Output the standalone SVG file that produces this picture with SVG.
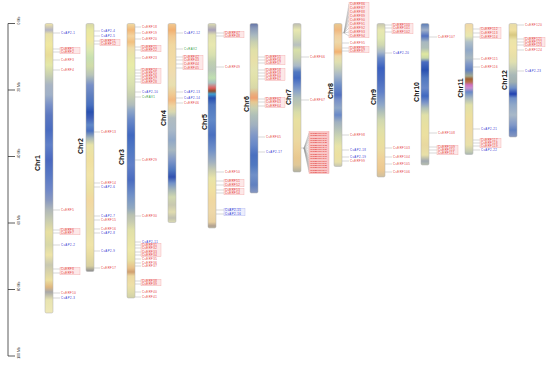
<svg xmlns="http://www.w3.org/2000/svg" width="550" height="369" viewBox="0 0 550 369">
<style>
.bar{stroke:#b0b0b0;stroke-width:0.5}
.chr{font-family:"Liberation Sans",Arial,sans-serif;font-size:7px;font-weight:bold;fill:#111}
.l{font-family:"Liberation Sans",Arial,sans-serif;font-size:2.8px;letter-spacing:0.45px;dominant-baseline:central}
.s{font-size:1.9px;letter-spacing:0}
.e{fill:#e3342f}.a{fill:#2f2fd0}.r{fill:#2b9a3a}
.box{fill:#fde8e8;stroke:#f2aaaa;stroke-width:0.4}
.bb{fill:#eceefd;stroke:#b0b4f0;stroke-width:0.4}
.cb{fill:#f9c6c6;stroke:#f09a9a;stroke-width:0.4}
#connectors path{stroke:#999;stroke-width:0.4;fill:none}
.sc line{stroke:#333;stroke-width:0.8}
.sct{font-family:"Liberation Sans",Arial,sans-serif;font-size:3.5px;fill:#222}
</style>
<defs>
<linearGradient id="g1" gradientUnits="userSpaceOnUse" x1="0" y1="0" x2="0" y2="1000">
<stop offset=".024" stop-color="#ede2a8"/><stop offset=".030" stop-color="#b4b4c4"/><stop offset=".034" stop-color="#e8e0a8"/><stop offset=".045" stop-color="#f0e8a0"/><stop offset=".055" stop-color="#e8dc98"/><stop offset=".065" stop-color="#e4e8a8"/><stop offset=".075" stop-color="#c8d0b0"/><stop offset=".085" stop-color="#a8b4c4"/><stop offset=".095" stop-color="#9fb0c8"/><stop offset=".105" stop-color="#7890c8"/><stop offset=".115" stop-color="#5c78c0"/><stop offset=".130" stop-color="#4a6cc0"/><stop offset=".145" stop-color="#6080c8"/><stop offset=".160" stop-color="#4a68c0"/><stop offset=".175" stop-color="#5878c4"/><stop offset=".190" stop-color="#7088c8"/><stop offset=".200" stop-color="#8898c0"/><stop offset=".210" stop-color="#b0b8b8"/><stop offset=".220" stop-color="#c8ccb0"/><stop offset=".232" stop-color="#e8e0a0"/><stop offset=".245" stop-color="#d8d8a8"/><stop offset=".255" stop-color="#eee4a8"/><stop offset=".265" stop-color="#c8c8b0"/><stop offset=".280" stop-color="#ece0a0"/><stop offset=".287" stop-color="#e0b880"/><stop offset=".292" stop-color="#a8a8a8"/><stop offset=".300" stop-color="#e8e4b0"/><stop offset=".313" stop-color="#efe8b8"/>
</linearGradient>
<linearGradient id="g2" gradientUnits="userSpaceOnUse" x1="0" y1="0" x2="0" y2="1000">
<stop offset=".024" stop-color="#d8d8a8"/><stop offset=".030" stop-color="#e8e8a0"/><stop offset=".040" stop-color="#f0e8a0"/><stop offset=".050" stop-color="#dce8b0"/><stop offset=".058" stop-color="#c8e0b0"/><stop offset=".066" stop-color="#d0dca8"/><stop offset=".075" stop-color="#b8c4b8"/><stop offset=".085" stop-color="#7890c8"/><stop offset=".095" stop-color="#6080c0"/><stop offset=".105" stop-color="#4870c0"/><stop offset=".112" stop-color="#2850b0"/><stop offset=".118" stop-color="#4060b8"/><stop offset=".125" stop-color="#6088c8"/><stop offset=".131" stop-color="#4a70c0"/><stop offset=".138" stop-color="#a8b8b8"/><stop offset=".145" stop-color="#e8e4a8"/><stop offset=".160" stop-color="#f0e0a0"/><stop offset=".175" stop-color="#f2e4a8"/><stop offset=".190" stop-color="#ece0a0"/><stop offset=".200" stop-color="#f2d8a0"/><stop offset=".215" stop-color="#eedca8"/><stop offset=".230" stop-color="#e8e0a8"/><stop offset=".245" stop-color="#f0e4a8"/><stop offset=".255" stop-color="#e8dca0"/><stop offset=".266" stop-color="#d8d0a0"/><stop offset=".271" stop-color="#909090"/>
</linearGradient>
<linearGradient id="g3" gradientUnits="userSpaceOnUse" x1="0" y1="0" x2="0" y2="1000">
<stop offset=".024" stop-color="#f0d8a0"/><stop offset=".030" stop-color="#f2b878"/><stop offset=".036" stop-color="#f4d4a0"/><stop offset=".042" stop-color="#f2c080"/><stop offset=".048" stop-color="#f0dca8"/><stop offset=".055" stop-color="#e8e4a8"/><stop offset=".065" stop-color="#e8eca8"/><stop offset=".075" stop-color="#e0e8b0"/><stop offset=".085" stop-color="#d8e0b0"/><stop offset=".095" stop-color="#c8d0b0"/><stop offset=".105" stop-color="#b0bcbc"/><stop offset=".110" stop-color="#90a8c8"/><stop offset=".120" stop-color="#6888c8"/><stop offset=".135" stop-color="#4068c0"/><stop offset=".150" stop-color="#5078c4"/><stop offset=".165" stop-color="#6080c8"/><stop offset=".180" stop-color="#4a6cc0"/><stop offset=".195" stop-color="#7090c8"/><stop offset=".208" stop-color="#90a8c0"/><stop offset=".215" stop-color="#b8c0b0"/><stop offset=".222" stop-color="#c8ccb0"/><stop offset=".230" stop-color="#e0e0a8"/><stop offset=".240" stop-color="#e8e4a8"/><stop offset=".250" stop-color="#eee8a8"/><stop offset=".260" stop-color="#e8e0a0"/><stop offset=".268" stop-color="#e8c088"/><stop offset=".272" stop-color="#d0a070"/><stop offset=".276" stop-color="#ecd8a0"/><stop offset=".285" stop-color="#eee0a8"/><stop offset=".292" stop-color="#e0dca8"/><stop offset=".298" stop-color="#d0d0a8"/>
</linearGradient>
<linearGradient id="g4" gradientUnits="userSpaceOnUse" x1="0" y1="0" x2="0" y2="1000">
<stop offset=".024" stop-color="#f0c890"/><stop offset=".030" stop-color="#f2b070"/><stop offset=".036" stop-color="#f2c890"/><stop offset=".045" stop-color="#f0d8a0"/><stop offset=".065" stop-color="#f2dca8"/><stop offset=".075" stop-color="#eedcb0"/><stop offset=".085" stop-color="#e8e0b0"/><stop offset=".095" stop-color="#f0c890"/><stop offset=".100" stop-color="#f2b880"/><stop offset=".106" stop-color="#eed4a0"/><stop offset=".112" stop-color="#d8d8b0"/><stop offset=".118" stop-color="#b0bcc0"/><stop offset=".130" stop-color="#a8b8c8"/><stop offset=".140" stop-color="#90a8c8"/><stop offset=".150" stop-color="#a8b8c0"/><stop offset=".160" stop-color="#8098c8"/><stop offset=".170" stop-color="#5078c0"/><stop offset=".177" stop-color="#3050b0"/><stop offset=".183" stop-color="#7090c8"/><stop offset=".190" stop-color="#a8b8b8"/><stop offset=".197" stop-color="#d0d8b0"/><stop offset=".205" stop-color="#c8c8b0"/><stop offset=".212" stop-color="#e0dcb0"/><stop offset=".218" stop-color="#c0c0b0"/><stop offset=".222" stop-color="#d8d8b0"/>
</linearGradient>
<linearGradient id="g5" gradientUnits="userSpaceOnUse" x1="0" y1="0" x2="0" y2="1000">
<stop offset=".024" stop-color="#d8d8b0"/><stop offset=".030" stop-color="#a8a0b8"/><stop offset=".035" stop-color="#e0e0b0"/><stop offset=".045" stop-color="#e8e8b0"/><stop offset=".055" stop-color="#d8e0b0"/><stop offset=".062" stop-color="#c0d0b0"/><stop offset=".070" stop-color="#b8c8b8"/><stop offset=".078" stop-color="#c0e0b0"/><stop offset=".083" stop-color="#a8c0c0"/><stop offset=".088" stop-color="#e06060"/><stop offset=".091" stop-color="#904828"/><stop offset=".094" stop-color="#40a0d0"/><stop offset=".098" stop-color="#2850b0"/><stop offset=".105" stop-color="#5078c0"/><stop offset=".120" stop-color="#6088c8"/><stop offset=".135" stop-color="#4a70c0"/><stop offset=".150" stop-color="#7090c8"/><stop offset=".162" stop-color="#a0b0c0"/><stop offset=".170" stop-color="#c8ccb0"/><stop offset=".178" stop-color="#e8e4a8"/><stop offset=".190" stop-color="#f0e0a0"/><stop offset=".200" stop-color="#f0d8a0"/><stop offset=".212" stop-color="#eed8a8"/><stop offset=".222" stop-color="#e8d0a0"/><stop offset=".226" stop-color="#b0a090"/><stop offset=".228" stop-color="#c0b8a0"/>
</linearGradient>
<linearGradient id="g6" gradientUnits="userSpaceOnUse" x1="0" y1="0" x2="0" y2="1000">
<stop offset=".024" stop-color="#6878a8"/><stop offset=".028" stop-color="#8898b8"/><stop offset=".035" stop-color="#a8b8c0"/><stop offset=".042" stop-color="#c8d0b0"/><stop offset=".050" stop-color="#e0e0a8"/><stop offset=".060" stop-color="#e8e0a8"/><stop offset=".070" stop-color="#e4e4b0"/><stop offset=".080" stop-color="#e0e0a8"/><stop offset=".088" stop-color="#d8d8a8"/><stop offset=".094" stop-color="#e8b080"/><stop offset=".098" stop-color="#f0a070"/><stop offset=".102" stop-color="#e8c890"/><stop offset=".108" stop-color="#c8d0b0"/><stop offset=".115" stop-color="#b0c0b8"/><stop offset=".125" stop-color="#a0b0c0"/><stop offset=".135" stop-color="#8098c8"/><stop offset=".145" stop-color="#6888c8"/><stop offset=".155" stop-color="#4a70c0"/><stop offset=".165" stop-color="#5078c0"/><stop offset=".175" stop-color="#7090c8"/><stop offset=".185" stop-color="#6080c0"/><stop offset=".193" stop-color="#8898c0"/>
</linearGradient>
<linearGradient id="g7" gradientUnits="userSpaceOnUse" x1="0" y1="0" x2="0" y2="1000">
<stop offset=".024" stop-color="#c0c0b0"/><stop offset=".030" stop-color="#e8e8b0"/><stop offset=".038" stop-color="#d0d8b0"/><stop offset=".045" stop-color="#b8c0c0"/><stop offset=".050" stop-color="#d8e0a8"/><stop offset=".058" stop-color="#c8d0b0"/><stop offset=".066" stop-color="#a8b8c8"/><stop offset=".072" stop-color="#5078c0"/><stop offset=".078" stop-color="#4068c0"/><stop offset=".085" stop-color="#6888c8"/><stop offset=".092" stop-color="#90a8c8"/><stop offset=".098" stop-color="#b0c0b8"/><stop offset=".105" stop-color="#c0c8b0"/><stop offset=".112" stop-color="#d8dca8"/><stop offset=".120" stop-color="#e8e0a0"/><stop offset=".130" stop-color="#e8dca0"/><stop offset=".140" stop-color="#ecd8a0"/><stop offset=".150" stop-color="#ecd098"/><stop offset=".158" stop-color="#e8c890"/><stop offset=".165" stop-color="#e0c898"/><stop offset=".172" stop-color="#b0b0a0"/>
</linearGradient>
<linearGradient id="g8" gradientUnits="userSpaceOnUse" x1="0" y1="0" x2="0" y2="1000">
<stop offset=".024" stop-color="#e8c890"/><stop offset=".030" stop-color="#f0b880"/><stop offset=".036" stop-color="#f2d0a0"/><stop offset=".042" stop-color="#eed8a8"/><stop offset=".048" stop-color="#f0c890"/><stop offset=".052" stop-color="#f2b070"/><stop offset=".056" stop-color="#eed8a8"/><stop offset=".062" stop-color="#e0e0b0"/><stop offset=".068" stop-color="#c8d0b8"/><stop offset=".075" stop-color="#a8b8c8"/><stop offset=".085" stop-color="#7090c8"/><stop offset=".095" stop-color="#5070c0"/><stop offset=".100" stop-color="#7890c8"/><stop offset=".108" stop-color="#90a8c8"/><stop offset=".115" stop-color="#6888c8"/><stop offset=".122" stop-color="#a0b0c0"/><stop offset=".130" stop-color="#b8c4b8"/><stop offset=".138" stop-color="#d0d8b0"/><stop offset=".146" stop-color="#e8e4a8"/><stop offset=".155" stop-color="#ece0a0"/><stop offset=".162" stop-color="#e8e0a8"/><stop offset=".166" stop-color="#c8c8b0"/>
</linearGradient>
<linearGradient id="g9" gradientUnits="userSpaceOnUse" x1="0" y1="0" x2="0" y2="1000">
<stop offset=".024" stop-color="#c8c8b0"/><stop offset=".030" stop-color="#e8e8b0"/><stop offset=".038" stop-color="#e0e8b0"/><stop offset=".045" stop-color="#d0d8b0"/><stop offset=".052" stop-color="#a8b8c8"/><stop offset=".058" stop-color="#6888c8"/><stop offset=".068" stop-color="#3a60c0"/><stop offset=".080" stop-color="#4a6cc0"/><stop offset=".092" stop-color="#6080c8"/><stop offset=".105" stop-color="#90a8c8"/><stop offset=".112" stop-color="#b0c0b8"/><stop offset=".120" stop-color="#d0d8b0"/><stop offset=".130" stop-color="#e0e0a8"/><stop offset=".140" stop-color="#e8e0a0"/><stop offset=".150" stop-color="#ecdca0"/><stop offset=".160" stop-color="#f0d098"/><stop offset=".170" stop-color="#ecc890"/><stop offset=".177" stop-color="#d0c0a0"/>
</linearGradient>
<linearGradient id="g10" gradientUnits="userSpaceOnUse" x1="0" y1="0" x2="0" y2="1000">
<stop offset=".024" stop-color="#6080b8"/><stop offset=".030" stop-color="#a0b0c8"/><stop offset=".036" stop-color="#5070c0"/><stop offset=".042" stop-color="#a8b8c0"/><stop offset=".048" stop-color="#b0c0b8"/><stop offset=".054" stop-color="#e0e8a0"/><stop offset=".058" stop-color="#c8d8a8"/><stop offset=".062" stop-color="#4a6cc0"/><stop offset=".070" stop-color="#2850b0"/><stop offset=".078" stop-color="#5078c0"/><stop offset=".088" stop-color="#6888c8"/><stop offset=".096" stop-color="#4068c0"/><stop offset=".103" stop-color="#8098c8"/><stop offset=".108" stop-color="#b0c0b8"/><stop offset=".115" stop-color="#e0e0a8"/><stop offset=".125" stop-color="#e8e0a0"/><stop offset=".135" stop-color="#ece0a0"/><stop offset=".145" stop-color="#e8d8a0"/><stop offset=".155" stop-color="#e8e0a8"/><stop offset=".161" stop-color="#a0a8b0"/><stop offset=".165" stop-color="#b8c0b0"/>
</linearGradient>
<linearGradient id="g11" gradientUnits="userSpaceOnUse" x1="0" y1="0" x2="0" y2="1000">
<stop offset=".024" stop-color="#f0d8a8"/><stop offset=".030" stop-color="#f0e0a8"/><stop offset=".036" stop-color="#e8e8b0"/><stop offset=".042" stop-color="#b0c0c8"/><stop offset=".050" stop-color="#90a8c8"/><stop offset=".058" stop-color="#a8b8c0"/><stop offset=".064" stop-color="#8098c8"/><stop offset=".070" stop-color="#6080c0"/><stop offset=".076" stop-color="#a0a890"/><stop offset=".079" stop-color="#a06030"/><stop offset=".082" stop-color="#b87050"/><stop offset=".085" stop-color="#d070c0"/><stop offset=".088" stop-color="#c890d0"/><stop offset=".092" stop-color="#6888c8"/><stop offset=".098" stop-color="#a8b8c0"/><stop offset=".105" stop-color="#e0e0a8"/><stop offset=".115" stop-color="#ece0a0"/><stop offset=".125" stop-color="#f0dca0"/><stop offset=".135" stop-color="#eedca8"/><stop offset=".145" stop-color="#e8e0a8"/><stop offset=".152" stop-color="#c0c8b0"/><stop offset=".155" stop-color="#a0b0b0"/>
</linearGradient>
<linearGradient id="g12" gradientUnits="userSpaceOnUse" x1="0" y1="0" x2="0" y2="1000">
<stop offset=".024" stop-color="#e8dca8"/><stop offset=".030" stop-color="#f0e0a0"/><stop offset=".035" stop-color="#d8c880"/><stop offset=".040" stop-color="#ece4a8"/><stop offset=".048" stop-color="#f0e4a8"/><stop offset=".056" stop-color="#e8e0a8"/><stop offset=".062" stop-color="#e0e0b0"/><stop offset=".068" stop-color="#c8d0b8"/><stop offset=".075" stop-color="#a8b8b8"/><stop offset=".082" stop-color="#a0b0b0"/><stop offset=".088" stop-color="#7090c8"/><stop offset=".094" stop-color="#2040b0"/><stop offset=".098" stop-color="#7090c8"/><stop offset=".105" stop-color="#90a8c8"/><stop offset=".115" stop-color="#a8b8c8"/><stop offset=".125" stop-color="#8098c8"/><stop offset=".130" stop-color="#6080c0"/><stop offset=".137" stop-color="#8898c0"/>
</linearGradient>
</defs>
<rect width="550" height="369" fill="#fff"/>
<g id="scale" class="sc">
<line x1="8" y1="23.5" x2="8" y2="356"/>
<line x1="8" y1="23.5" x2="15" y2="23.5"/><line x1="8" y1="90" x2="15" y2="90"/><line x1="8" y1="156.5" x2="15" y2="156.5"/><line x1="8" y1="223" x2="15" y2="223"/><line x1="8" y1="289.5" x2="15" y2="289.5"/><line x1="8" y1="356" x2="15" y2="356"/>
<text class="sct" text-anchor="middle" transform="translate(20,20.5) rotate(-90)">0 Mb</text>
<text class="sct" text-anchor="middle" transform="translate(20,87) rotate(-90)">20 Mb</text>
<text class="sct" text-anchor="middle" transform="translate(20,153.5) rotate(-90)">40 Mb</text>
<text class="sct" text-anchor="middle" transform="translate(20,220) rotate(-90)">60 Mb</text>
<text class="sct" text-anchor="middle" transform="translate(20,286.5) rotate(-90)">80 Mb</text>
<text class="sct" text-anchor="middle" transform="translate(20,353) rotate(-90)">100 Mb</text>
</g>
<g id="connectors">
<path d="M53 33H60M53 49H60M53 52H60M53 60H60M53 70H60M53 210H60M53 230H60M53 233H60M53 245H60M53 269H60M53 273H60M53 293H60M53 298H60"/>
<path d="M94 31H100M94 36H100M94 41H100M94 44H100M94 132H100M94 183H100M94 187H100M94 216H100M94 220H100M94 229H100M94 233H100M94 251H100M94 268H100"/>
<path d="M135 27H141M135 33H141M135 39H141M135 47H141M135 50H141M135 58H141M135 70H141M135 73H141M135 76H141M135 79H141M135 82H141M135 92H141M135 97H141M135 160H141M135 216H141M135 242H141M135 245H141M135 248H141M135 252H141M135 255H141M135 259H141M135 263H141M135 266H141M135 281H141M135 284H141M135 292H141M135 297H141"/>
<path d="M176 33H183M176 49H183M176 57H183M176 60H183M176 64H183M176 68H183M176 92H183M176 98H183M176 103H183"/>
<path d="M216 33H224M216 36H224M216 67H224M216 172H224M216 181H224M216 185H224M216 190H224M216 193H224M216 210H224M216 214H224"/>
<path d="M258 57H265M258 60H265M258 63H265M258 70H265M258 73H265M258 76H265M258 79H265M258 99H265M258 102H265M258 106H265M258 137H265M258 152H265"/>
<path d="M301 57H309M301 100H309"/>
<path d="M301 148H304L309 133M304 148L309 135.3M304 148L309 137.6M304 148L309 139.9M304 148L309 142.2M304 148L309 144.5M304 148L309 146.8M304 148L309 149.1M304 148L309 151.4M304 148L309 153.6M304 148L309 155.9M304 148L309 158.2M304 148L309 160.5M304 148L309 162.8M304 148L309 165.1M304 148L309 167.4M304 148L309 169.7M304 148L309 172"/>
<path d="M342 33H344L349 4M344 33L349 8M344 33L349 12M344 33L349 16M344 33L349 20M344 33L349 24M344 33L349 28M344 33L349 32M344 33L349 36"/>
<path d="M342 43H349M342 48H349M342 51H349M342 135H349M342 150H349M342 157H349M342 161H349"/>
<path d="M385 25H392M385 28H392M385 32H392M385 53H392M385 148H392M385 157H392M385 164H392M385 172H392"/>
<path d="M429 37H437M429 133H437M429 147H437M429 150H437M429 153H437"/>
<path d="M473 29H480M473 33H480M473 37H480M473 59H480M473 67H480M473 129H480M473 140H480M473 143H480M473 146H480M473 150H480"/>
<path d="M517 25H524M517 39H524M517 42H524M517 45H524M517 50H524M517 71H524"/>
</g>
<g id="chr1">
<rect class="bar" x="45" y="23.5" width="8" height="289.5" rx="1.5" fill="url(#g1)"/>
<text class="chr" text-anchor="middle" transform="translate(39.5,163) rotate(-90)">Chr1</text>
<rect class="box" x="60" y="47.2" width="20" height="6.6"/><rect class="box" x="60" y="228.2" width="20" height="6.6"/><rect class="box" x="60" y="267.2" width="20" height="7.6"/>
<text class="l a" x="61" y="33">CsAP2-1</text><text class="l e" x="61" y="49">CsERF1</text><text class="l e" x="61" y="52">CsERF2</text><text class="l e" x="61" y="60">CsERF3</text><text class="l e" x="61" y="70">CsERF4</text><text class="l e" x="61" y="210">CsERF5</text><text class="l e" x="61" y="230">CsERF6</text><text class="l e" x="61" y="233">CsERF7</text><text class="l a" x="61" y="245">CsAP2-2</text><text class="l e" x="61" y="269">CsERF8</text><text class="l e" x="61" y="273">CsERF9</text><text class="l e" x="61" y="293">CsERF10</text><text class="l a" x="61" y="298">CsAP2-3</text>
</g>
<g id="chr2">
<rect class="bar" x="86" y="23.5" width="8" height="248" rx="1.5" fill="url(#g2)"/>
<text class="chr" text-anchor="middle" transform="translate(82.5,146) rotate(-90)">Chr2</text>
<rect class="box" x="100" y="39.2" width="20" height="6.6"/>
<text class="l a" x="101" y="31">CsAP2-4</text><text class="l a" x="101" y="36">CsAP2-5</text><text class="l e" x="101" y="41">CsERF11</text><text class="l e" x="101" y="44">CsERF12</text><text class="l e" x="101" y="132">CsERF13</text><text class="l e" x="101" y="183">CsERF14</text><text class="l a" x="101" y="187">CsAP2-6</text><text class="l a" x="101" y="216">CsAP2-7</text><text class="l e" x="101" y="220">CsERF15</text><text class="l e" x="101" y="229">CsERF16</text><text class="l a" x="101" y="233">CsAP2-8</text><text class="l a" x="101" y="251">CsAP2-9</text><text class="l e" x="101" y="268">CsERF17</text>
</g>
<g id="chr3">
<rect class="bar" x="127" y="23.5" width="8" height="274.5" rx="1.5" fill="url(#g3)"/>
<text class="chr" text-anchor="middle" transform="translate(123.5,157) rotate(-90)">Chr3</text>
<rect class="box" x="141" y="45.2" width="20" height="6.6"/><rect class="box" x="141" y="68.2" width="20" height="15.6"/><rect class="box" x="141" y="243.2" width="20" height="13.6"/><rect class="box" x="141" y="279.2" width="20" height="6.6"/>
<text class="l e" x="142" y="27">CsERF18</text><text class="l e" x="142" y="33">CsERF19</text><text class="l e" x="142" y="39">CsERF20</text><text class="l e" x="142" y="47">CsERF21</text><text class="l e" x="142" y="50">CsERF22</text><text class="l e" x="142" y="58">CsERF23</text><text class="l e" x="142" y="70">CsERF24</text><text class="l e" x="142" y="73">CsERF25</text><text class="l e" x="142" y="76">CsERF26</text><text class="l e" x="142" y="79">CsERF27</text><text class="l e" x="142" y="82">CsERF28</text><text class="l a" x="142" y="92">CsAP2-10</text><text class="l r" x="142" y="97">CsRAV1</text><text class="l e" x="142" y="160">CsERF29</text><text class="l e" x="142" y="216">CsERF30</text><text class="l a" x="142" y="242">CsAP2-11</text><text class="l e" x="142" y="245">CsERF31</text><text class="l e" x="142" y="248">CsERF32</text><text class="l e" x="142" y="252">CsERF33</text><text class="l e" x="142" y="255">CsERF34</text><text class="l e" x="142" y="259">CsERF35</text><text class="l e" x="142" y="263">CsERF36</text><text class="l e" x="142" y="266">CsERF37</text><text class="l e" x="142" y="281">CsERF38</text><text class="l e" x="142" y="284">CsERF39</text><text class="l e" x="142" y="292">CsERF40</text><text class="l e" x="142" y="297">CsERF41</text>
</g>
<g id="chr4">
<rect class="bar" x="168" y="23.5" width="8" height="199" rx="1.5" fill="url(#g4)"/>
<text class="chr" text-anchor="middle" transform="translate(165.5,118) rotate(-90)">Chr4</text>
<rect class="box" x="183" y="55.2" width="20" height="14.6"/>
<text class="l a" x="184" y="33">CsAP2-12</text><text class="l r" x="184" y="49">CsRAV2</text><text class="l e" x="184" y="57">CsERF42</text><text class="l e" x="184" y="60">CsERF43</text><text class="l e" x="184" y="64">CsERF44</text><text class="l e" x="184" y="68">CsERF45</text><text class="l a" x="184" y="92">CsAP2-13</text><text class="l a" x="184" y="98">CsAP2-14</text><text class="l e" x="184" y="103">CsERF46</text>
</g>
<g id="chr5">
<rect class="bar" x="208" y="23.5" width="8" height="204.5" rx="1.5" fill="url(#g5)"/>
<text class="chr" text-anchor="middle" transform="translate(206.5,122) rotate(-90)">Chr5</text>
<rect class="box" x="224" y="31.2" width="20" height="6.6"/><rect class="box" x="224" y="179.2" width="20" height="7.6"/><rect class="box" x="224" y="188.2" width="20" height="6.6"/><rect class="bb" x="224" y="208.2" width="21" height="7.6"/>
<text class="l e" x="225" y="33">CsERF47</text><text class="l e" x="225" y="36">CsERF48</text><text class="l e" x="225" y="67">CsERF49</text><text class="l e" x="225" y="172">CsERF50</text><text class="l e" x="225" y="181">CsERF51</text><text class="l e" x="225" y="185">CsERF52</text><text class="l e" x="225" y="190">CsERF53</text><text class="l e" x="225" y="193">CsERF54</text><text class="l a" x="225" y="210">CsAP2-15</text><text class="l a" x="225" y="214">CsAP2-16</text>
</g>
<g id="chr6">
<rect class="bar" x="250" y="23.5" width="8" height="169.5" rx="1.5" fill="url(#g6)"/>
<text class="chr" text-anchor="middle" transform="translate(248.5,104) rotate(-90)">Chr6</text>
<rect class="box" x="265" y="55.2" width="20" height="9.6"/><rect class="box" x="265" y="68.2" width="20" height="12.6"/><rect class="box" x="265" y="97.2" width="20" height="10.6"/>
<text class="l e" x="266" y="57">CsERF55</text><text class="l e" x="266" y="60">CsERF56</text><text class="l e" x="266" y="63">CsERF57</text><text class="l e" x="266" y="70">CsERF58</text><text class="l e" x="266" y="73">CsERF59</text><text class="l e" x="266" y="76">CsERF60</text><text class="l e" x="266" y="79">CsERF61</text><text class="l e" x="266" y="99">CsERF62</text><text class="l e" x="266" y="102">CsERF63</text><text class="l e" x="266" y="106">CsERF64</text><text class="l e" x="266" y="137">CsERF65</text><text class="l a" x="266" y="152">CsAP2-17</text>
</g>
<g id="chr7">
<rect class="bar" x="293" y="23.5" width="8" height="148.5" rx="1.5" fill="url(#g7)"/>
<text class="chr" text-anchor="middle" transform="translate(290.5,97) rotate(-90)">Chr7</text>
<rect class="cb" x="309" y="131.6" width="20" height="41.8"/>
<text class="l e" x="310" y="57">CsERF66</text><text class="l e" x="310" y="100">CsERF67</text>
<g class="l e s">
<text x="310" y="133" textLength="17" lengthAdjust="spacingAndGlyphs">CsERF68</text><text x="310" y="135.3" textLength="17" lengthAdjust="spacingAndGlyphs">CsERF69</text><text x="310" y="137.6" textLength="17" lengthAdjust="spacingAndGlyphs">CsERF70</text><text x="310" y="139.9" textLength="17" lengthAdjust="spacingAndGlyphs">CsERF71</text><text x="310" y="142.2" textLength="17" lengthAdjust="spacingAndGlyphs">CsERF72</text><text x="310" y="144.5" textLength="17" lengthAdjust="spacingAndGlyphs">CsERF73</text><text x="310" y="146.8" textLength="17" lengthAdjust="spacingAndGlyphs">CsERF74</text><text x="310" y="149.1" textLength="17" lengthAdjust="spacingAndGlyphs">CsERF75</text><text x="310" y="151.4" textLength="17" lengthAdjust="spacingAndGlyphs">CsERF76</text><text x="310" y="153.6" textLength="17" lengthAdjust="spacingAndGlyphs">CsERF77</text><text x="310" y="155.9" textLength="17" lengthAdjust="spacingAndGlyphs">CsERF78</text><text x="310" y="158.2" textLength="17" lengthAdjust="spacingAndGlyphs">CsERF79</text><text x="310" y="160.5" textLength="17" lengthAdjust="spacingAndGlyphs">CsERF80</text><text x="310" y="162.8" textLength="17" lengthAdjust="spacingAndGlyphs">CsERF81</text><text x="310" y="165.1" textLength="17" lengthAdjust="spacingAndGlyphs">CsERF82</text><text x="310" y="167.4" textLength="17" lengthAdjust="spacingAndGlyphs">CsERF83</text><text x="310" y="169.7" textLength="17" lengthAdjust="spacingAndGlyphs">CsERF84</text><text x="310" y="172" textLength="17" lengthAdjust="spacingAndGlyphs">CsERF85</text>
</g>
</g>
<g id="chr8">
<rect class="bar" x="334" y="23.5" width="8" height="143" rx="1.5" fill="url(#g8)"/>
<text class="chr" text-anchor="middle" transform="translate(332.5,91) rotate(-90)">Chr8</text>
<rect class="box" x="349" y="2.2" width="20" height="35.6"/><rect class="box" x="349" y="46.2" width="20" height="6.6"/>
<text class="l e" x="350" y="4">CsERF86</text><text class="l e" x="350" y="8">CsERF87</text><text class="l e" x="350" y="12">CsERF88</text><text class="l e" x="350" y="16">CsERF89</text><text class="l e" x="350" y="20">CsERF90</text><text class="l e" x="350" y="24">CsERF91</text><text class="l e" x="350" y="28">CsERF92</text><text class="l e" x="350" y="32">CsERF93</text><text class="l e" x="350" y="36">CsERF94</text><text class="l e" x="350" y="43">CsERF95</text><text class="l e" x="350" y="48">CsERF96</text><text class="l e" x="350" y="51">CsERF97</text><text class="l e" x="350" y="135">CsERF98</text><text class="l a" x="350" y="150">CsAP2-18</text><text class="l a" x="350" y="157">CsAP2-19</text><text class="l e" x="350" y="161">CsERF99</text>
</g>
<g id="chr9">
<rect class="bar" x="377" y="23.5" width="8" height="153.5" rx="1.5" fill="url(#g9)"/>
<text class="chr" text-anchor="middle" transform="translate(375.5,97) rotate(-90)">Chr9</text>
<rect class="box" x="392" y="23.2" width="21" height="10.6"/>
<text class="l e" x="393" y="25">CsERF100</text><text class="l e" x="393" y="28">CsERF101</text><text class="l e" x="393" y="32">CsERF102</text><text class="l a" x="393" y="53">CsAP2-20</text><text class="l e" x="393" y="148">CsERF103</text><text class="l e" x="393" y="157">CsERF104</text><text class="l e" x="393" y="164">CsERF105</text><text class="l e" x="393" y="172">CsERF106</text>
</g>
<g id="chr10">
<rect class="bar" x="421" y="23.5" width="8" height="141.5" rx="1.5" fill="url(#g10)"/>
<text class="chr" text-anchor="middle" transform="translate(418.5,92) rotate(-90)">Chr10</text>
<rect class="box" x="437" y="145.2" width="21" height="9.6"/>
<text class="l e" x="438" y="37">CsERF107</text><text class="l e" x="438" y="133">CsERF108</text><text class="l e" x="438" y="147">CsERF109</text><text class="l e" x="438" y="150">CsERF110</text><text class="l e" x="438" y="153">CsERF111</text>
</g>
<g id="chr11">
<rect class="bar" x="465" y="23.5" width="8" height="131" rx="1.5" fill="url(#g11)"/>
<text class="chr" text-anchor="middle" transform="translate(462.5,88) rotate(-90)">Chr11</text>
<rect class="box" x="480" y="27.2" width="21" height="11.6"/><rect class="box" x="480" y="138.2" width="21" height="9.6"/>
<text class="l e" x="481" y="29">CsERF112</text><text class="l e" x="481" y="33">CsERF113</text><text class="l e" x="481" y="37">CsERF114</text><text class="l e" x="481" y="59">CsERF115</text><text class="l e" x="481" y="67">CsERF116</text><text class="l a" x="481" y="129">CsAP2-21</text><text class="l e" x="481" y="140">CsERF117</text><text class="l e" x="481" y="143">CsERF118</text><text class="l e" x="481" y="146">CsERF119</text><text class="l a" x="481" y="150">CsAP2-22</text>
</g>
<g id="chr12">
<rect class="bar" x="509" y="23.5" width="8" height="113.5" rx="1.5" fill="url(#g12)"/>
<text class="chr" text-anchor="middle" transform="translate(506.5,80) rotate(-90)">Chr12</text>
<rect class="box" x="524" y="37.2" width="21" height="9.6"/>
<text class="l e" x="525" y="25">CsERF120</text><text class="l e" x="525" y="39">CsERF121</text><text class="l e" x="525" y="42">CsERF122</text><text class="l e" x="525" y="45">CsERF123</text><text class="l e" x="525" y="50">CsERF124</text><text class="l a" x="525" y="71">CsAP2-23</text>
</g>
</svg>
